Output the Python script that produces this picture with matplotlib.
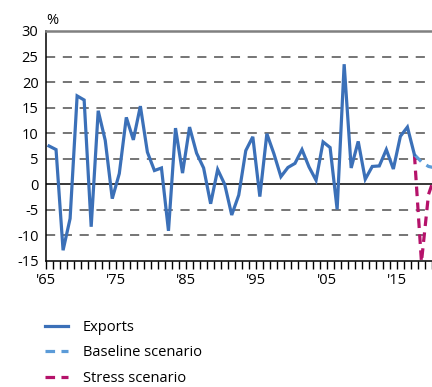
import matplotlib
matplotlib.use("Agg")
import matplotlib.pyplot as plt
import numpy as np
from matplotlib.lines import Line2D

plt.rcParams['font.family'] = ['Open Sans', 'DejaVu Sans']

# ---- data ----
start_year = 1965
exports = [7.5, 6.8, -12.9, -6.7, 17.3, 16.5, -8.3, 14.4, 8.6, -2.8,
           2.1, 13.1, 8.7, 15.3, 6.3, 2.7, 3.2, -9.1, 11.0, 2.2,
           11.2, 6.1, 3.2, -3.8, 2.9, 0.0, -6.0, -2.1, 6.6, 9.3,
           -2.4, 9.9, 6.0, 1.5, 3.3, 4.1, 6.8, 3.4, 0.8, 8.3,
           7.2, -4.9, 23.5, 3.2, 8.4, 1.0, 3.5, 3.6, 6.8, 3.0,
           9.4, 11.2, 5.8]
baseline = [5.8, 4.4, 3.5, 3.2]
stress = [5.8, -15.2, -2.0, 2.0]
tick_years = [1965, 1975, 1985, 1995, 2005, 2015]
tick_labels = ["'65", "'75", "'85", "'95", "'05", "'15"]
y_ticks = [-15, -10, -5, 0, 5, 10, 15, 20, 25, 30]

years = start_year + np.arange(len(exports)) + 0.5
scen_start = years[-1]
scen_years = scen_start + np.arange(len(baseline))

blue = '#3b70b8'
lightblue = '#5b9bd8'
magenta = '#b5126a'

fig = plt.figure(figsize=(4.32, 3.87), dpi=100)
ax = fig.add_axes([45.5/432, (387-261)/387, (432-45.5)/432, (261-31)/387])

# gridlines
for y in y_ticks:
    if y in (-15, 30):
        continue
    if y == 0:
        ax.axhline(0, color='black', lw=1.1, zorder=1)
    else:
        ax.axhline(y, color='#505050', lw=1.1, dashes=(6, 5), zorder=1)

ax.plot(scen_years, stress, color=magenta, lw=2.3, dashes=(3, 2), zorder=3)
ax.plot(scen_years, baseline, color=lightblue, lw=2.3, dashes=(3, 2), zorder=3)
ax.plot(years, exports, color=blue, lw=2.3, zorder=4, solid_joinstyle='miter')

ax.set_xlim(1965, 1965 + 386.5/7.05)
ax.set_ylim(-15, 30)
ax.set_yticks(y_ticks)
ax.set_yticklabels([str(v) for v in y_ticks], fontsize=10.5)
ax.tick_params(axis='y', length=0, pad=5)

ax.set_xticks(tick_years)
ax.set_xticklabels(tick_labels, fontsize=10.5)
ax.set_xticks(np.arange(1965, 2021), minor=True)
ax.tick_params(axis='x', which='both', direction='out', length=6, width=1, pad=3)

ax.spines['right'].set_visible(False)
ax.spines['top'].set_color('#808080')
ax.spines['top'].set_linewidth(1.8)
ax.spines['left'].set_linewidth(1.1)
ax.spines['bottom'].set_linewidth(1.1)

fig.text(52/432, 1 - 20/387, '%', fontsize=10.5, ha='center', va='center')

handles = [Line2D([], [], color=blue, lw=2.3),
           Line2D([], [], color=lightblue, lw=2.3, dashes=(3, 2)),
           Line2D([], [], color=magenta, lw=2.3, dashes=(3, 2))]
fig.legend(handles, ['Exports', 'Baseline scenario', 'Stress scenario'],
           loc='upper left', bbox_to_anchor=(45/432, 1 - 320/387),
           frameon=False, fontsize=10.5, handlelength=1.6, handletextpad=1.0,
           labelspacing=0.72, borderpad=0, borderaxespad=0)

fig.savefig('out.png', dpi=100)
